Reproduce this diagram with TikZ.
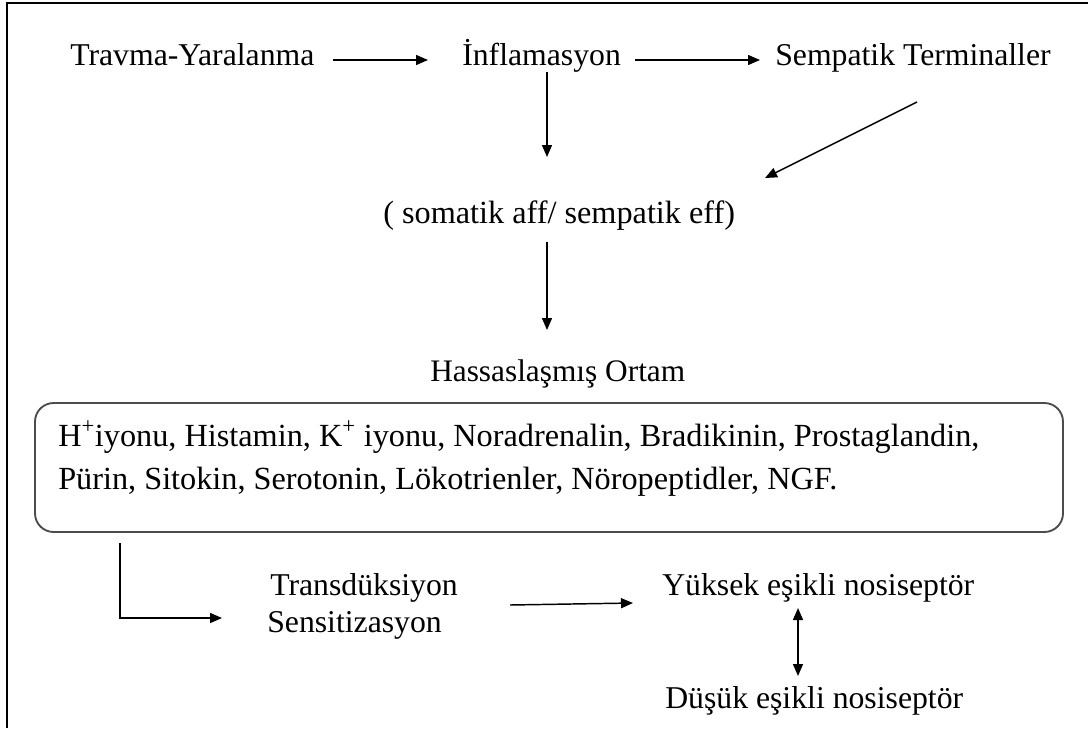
\documentclass[tikz,border=0pt]{standalone}
\usepackage{fontspec}
\setmainfont{Liberation Serif}
\usetikzlibrary{arrows.meta}
\begin{document}
\begin{tikzpicture}[x=0.75pt,y=-0.75pt,
  lbl/.style={anchor=base west,inner sep=0pt,font=\fontsize{23.8}{28}\selectfont},
  big/.style={lbl,font=\fontsize{24.2}{29}\selectfont},
  arr/.style={line width=1.1pt,-{Triangle[length=9pt,width=7.5pt]}},
  dbl/.style={line width=1.1pt,{Triangle[length=9pt,width=7.5pt]}-{Triangle[length=9pt,width=7.5pt]}}]
\useasboundingbox (0,0) rectangle (1088,728);
\fill[white] (0,0) rectangle (1088,728);
% outer frame
\draw[line width=1.5pt] (7,728) -- (7,3) -- (1088,3);
% nodes
\node[lbl] (trav) at (70,65) {Travma-Yaralanma};
\node[lbl] (infl) at (462,65) {İnflamasyon};
\node[lbl] (semp) at (775,65) {Sempatik Terminaller};
\node[big] (som) at (383,223) {( somatik aff/ sempatik eff)};
\node[lbl,font=\fontsize{23.5}{28}\selectfont] (hass) at (430,381) {Hassaslaşmış Ortam};
\draw[line width=1.4pt,draw=black!70,rounded corners=14pt] (35,403) rectangle (1063,532);
\node[big] (box1) at (58,446) {H\textsuperscript{+}iyonu, Histamin, K\textsuperscript{+} iyonu, Noradrenalin, Bradikinin, Prostaglandin,};
\node[big] (box2) at (58,489) {Pürin, Sitokin, Serotonin, Lökotrienler, Nöropeptidler, NGF.};
\node[lbl] (tr1) at (270,595) {Transdüksiyon};
\node[lbl] (tr2) at (267,632) {Sensitizasyon};
\node[lbl] (yuk) at (662,595) {Yüksek eşikli nosiseptör};
\node[lbl] (dus) at (665,708) {Düşük eşikli nosiseptör};
% coordinates
\coordinate (a1s) at (333,60); \coordinate (a1e) at (428,60);
\coordinate (a2s) at (635,60); \coordinate (a2e) at (760,60);
\coordinate (v1s) at (547,72); \coordinate (v1e) at (547,157);
\coordinate (ds) at (917,102); \coordinate (de) at (765,178);
\coordinate (v2s) at (547,242); \coordinate (v2e) at (547,330);
\coordinate (es) at (120,543); \coordinate (ec) at (120,618); \coordinate (ee) at (222,618);
\coordinate (hs) at (510,605); \coordinate (he) at (633,603);
\coordinate (bs) at (798,608); \coordinate (be) at (798,676);
% connectors
\draw[arr] (a1s) -- (a1e);
\draw[arr] (a2s) -- (a2e);
\draw[arr] (v1s) -- (v1e);
\draw[arr] (ds) -- (de);
\draw[arr] (v2s) -- (v2e);
\draw[arr] (es) -- (ec) -- (ee);
\draw[arr] (hs) -- (he);
\draw[dbl] (bs) -- (be);
\end{tikzpicture}
\end{document}
